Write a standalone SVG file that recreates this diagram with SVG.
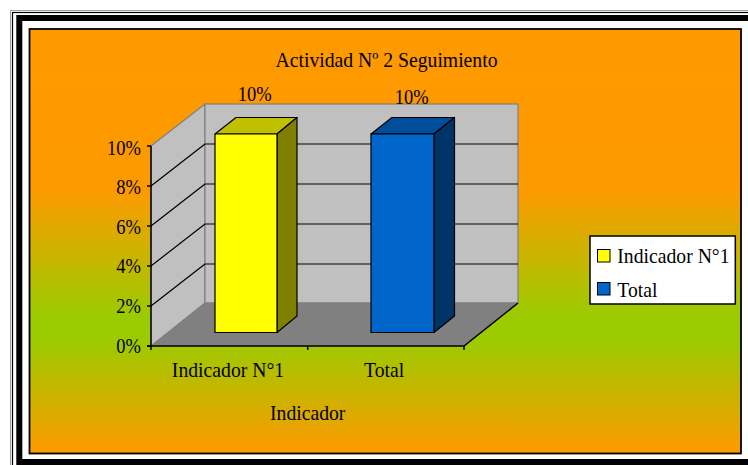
<svg xmlns="http://www.w3.org/2000/svg" width="748" height="465" viewBox="0 0 748 465">
<defs>
<linearGradient id="bg" x1="0" y1="0" x2="0" y2="1">
<stop offset="0" stop-color="#FF9900"/>
<stop offset="0.38" stop-color="#FD9A00"/>
<stop offset="0.68" stop-color="#99CC00"/>
<stop offset="0.74" stop-color="#9DCA00"/>
<stop offset="1" stop-color="#FF9900"/>
</linearGradient>
<style>
text{font-family:"Liberation Serif","Times New Roman",serif;fill:#000;font-size:19.7px}
.pct{font-size:18.5px}
.wall{fill:#C0C0C0;stroke:#808080;stroke-width:1.2}
.grid{stroke:#000;stroke-width:1.2;fill:none}
.ax{stroke:#000;stroke-width:1.5;fill:none}
.bar{stroke:#000;stroke-width:1.2;stroke-linejoin:round}
</style>
</defs>
<rect width="748" height="465" fill="#FFFFFF"/>
<g id="frame" fill="none">
<rect x="10.5" y="10.5" width="800" height="800" stroke="#A0A0A0" stroke-width="1"/>
<rect x="12.5" y="12.5" width="800" height="800" stroke="#000" stroke-width="1.2"/>
<rect x="19.3" y="18" width="800" height="444" stroke="#000" stroke-width="6"/>
</g>
<g id="chart-area">
<rect x="29.5" y="29" width="711.5" height="424.5" fill="url(#bg)" stroke="#000" stroke-width="1.8"/>
</g>
<g id="plot">
<polygon class="wall" points="151,146 205,104 205,303 151,346"/>
<rect class="wall" x="205" y="104" width="313" height="199"/>
<polygon points="151,346 205,303 518,303 464,346" fill="#808080" stroke="#808080" stroke-width="1"/>
<g class="grid">
<path d="M205,144H518M205,184H518M205,224H518M205,264H518"/>
<path d="M151,186L205,144M151,226L205,184M151,266L205,224M151,306L205,264"/>
</g>
<g class="ax">
<path d="M151,146V350"/>
<path d="M147,146H151M147,186H151M147,226H151M147,266H151M147,306H151M147,346H151"/>
<path d="M147,346H464L518,303"/>
<path d="M307.7,346V350M464,346V350"/>
</g>
</g>
<g id="bar-indicador">
<polygon class="bar" points="215,134 236,117.5 297,117.5 277,134" fill="#C0C000"/>
<polygon class="bar" points="277,134 297,117.5 297,316 277,332.5" fill="#808000"/>
<rect class="bar" x="215" y="134" width="62" height="198.5" fill="#FFFF00"/>
</g>
<g id="bar-total">
<polygon class="bar" points="371,134 392,117.5 454.5,117.5 434,134" fill="#004D99"/>
<polygon class="bar" points="434,134 454.5,117.5 454.5,316 434,332.5" fill="#003366"/>
<rect class="bar" x="371" y="134" width="63" height="198.5" fill="#0066CC"/>
</g>
<g id="texts">
<text text-anchor="middle" transform="translate(386.5,67.3) scale(1,1.1)">Actividad Nº 2 Seguimiento</text>
<text class="pct" text-anchor="middle" transform="translate(254.7,101) scale(1,1.1)">10%</text>
<text class="pct" text-anchor="middle" transform="translate(411.7,103.5) scale(1,1.1)">10%</text>
<g text-anchor="end">
<text class="pct" transform="translate(141,154.5) scale(1,1.1)">10%</text>
<text class="pct" transform="translate(141,194) scale(1,1.1)">8%</text>
<text class="pct" transform="translate(141,233.5) scale(1,1.1)">6%</text>
<text class="pct" transform="translate(141,273) scale(1,1.1)">4%</text>
<text class="pct" transform="translate(141,313) scale(1,1.1)">2%</text>
<text class="pct" transform="translate(141,352.5) scale(1,1.1)">0%</text>
</g>
<text text-anchor="middle" transform="translate(228,377.3) scale(1,1.1)">Indicador N°1</text>
<text text-anchor="middle" transform="translate(384.2,377.3) scale(1,1.1)">Total</text>
<text text-anchor="middle" transform="translate(307.7,420) scale(1,1.1)">Indicador</text>
</g>
<g id="legend">
<rect x="590" y="236" width="145.3" height="68" fill="#FFFFFF" stroke="#000" stroke-width="1.5"/>
<rect x="597.5" y="249.5" width="12.5" height="12.5" fill="#FFFF00" stroke="#000" stroke-width="1"/>
<rect x="597.5" y="282.5" width="12.5" height="12.5" fill="#0066CC" stroke="#000" stroke-width="1"/>
<text transform="translate(617.3,262.7) scale(1,1.1)">Indicador N°1</text>
<text transform="translate(617.3,296.7) scale(1,1.1)">Total</text>
</g>
</svg>
